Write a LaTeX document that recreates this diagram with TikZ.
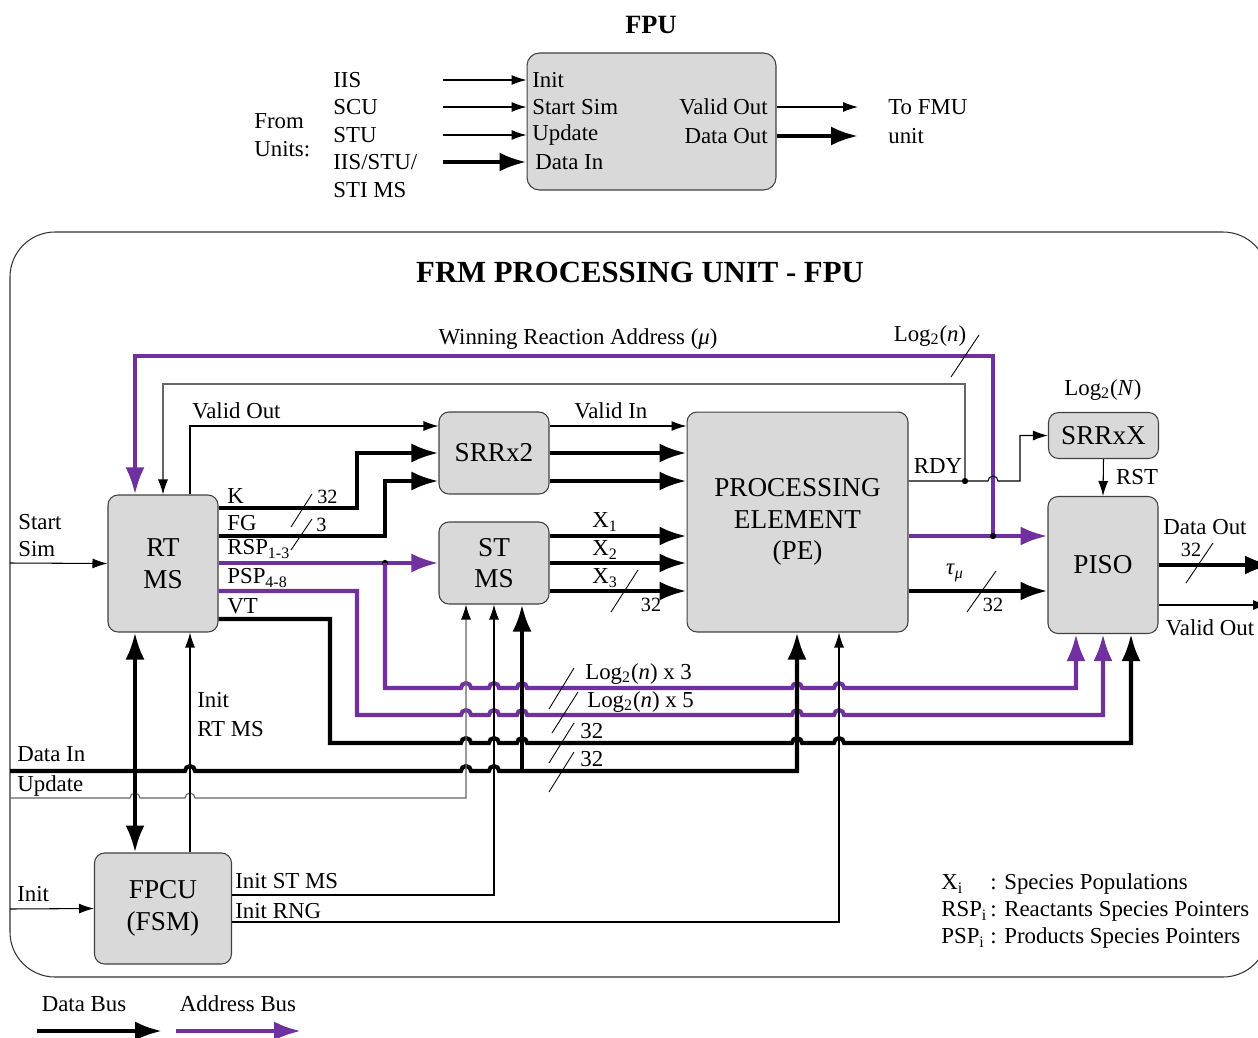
\documentclass[tikz,border=0pt]{standalone}
\usepackage{fontspec}
\setmainfont{Liberation Serif}
\usetikzlibrary{arrows.meta}
\definecolor{boxgray}{HTML}{D9D9D9}
\definecolor{addr}{HTML}{7030A0}
\tikzset{
  blk/.style={draw=black!75, line width=0.6pt, fill=boxgray, rounded corners=0.2cm,
    align=center, inner sep=0pt, font=\fontsize{15.5}{18}\selectfont},
  lbl/.style={inner sep=0pt},
  wd/.style={inner sep=0pt, font=\fontsize{11.5}{13}\selectfont},
  sig/.style={line width=0.6pt, -{Latex[length=0.3cm,width=0.2cm]}},
  gsig/.style={line width=0.6pt, draw=black!60, -{Latex[length=0.3cm,width=0.2cm,black]}},
  bus/.style={line width=2.3pt, -{Latex[length=0.54cm,width=0.38cm]}},
  abus/.style={bus, addr},
  tick/.style={line width=0.5pt},
}
\def\hopover{arc[start angle=180,end angle=0,radius=0.1cm]}
\begin{document}
\begin{tikzpicture}[x=0.02cm, y=-0.02cm, font=\fontsize{13}{15}\selectfont]
\useasboundingbox (0,0) rectangle (1258,1038);
\clip (0,0) rectangle (1258,1038);

% ---- top: FPU as a black box
\node[font=\fontsize{15}{18}\bfseries] (fputitle) at (651,25) {FPU};
\node[blk, rounded corners=0.25cm, minimum width=4.98cm, minimum height=2.74cm] (fpu) at (651.5,121.5) {};
\node[lbl, anchor=west] (from) at (254,121) {From};
\node[lbl, anchor=west] (units) at (254,149) {Units:};
\node[lbl, anchor=west] (iis) at (333,80) {IIS};
\node[lbl, anchor=west] (scu) at (333,107) {SCU};
\node[lbl, anchor=west] (stu) at (333,135) {STU};
\node[lbl, anchor=west] (iisb) at (333,162) {IIS/STU/};
\node[lbl, anchor=west] (stims) at (333,190) {STI MS};
\node[lbl, anchor=west] (finit) at (532,80) {Init};
\node[lbl, anchor=west] (fstart) at (532,107) {Start Sim};
\node[lbl, anchor=west] (fupd) at (532,135) {Update};
\node[lbl, anchor=west] (fdin) at (535,162) {Data In};
\node[lbl, anchor=east] (fvout) at (768,107) {Valid Out};
\node[lbl, anchor=east] (fdout) at (768,136) {Data Out};
\node[lbl, anchor=west] (tofmu) at (888,107) {To FMU};
\node[lbl, anchor=west] (unit) at (888,136) {unit};
\foreach \n in {iis,scu,stu}
  \draw[sig] (\n.east -| 443,0) -- (\n.east -| fpu.west);
\draw[bus] (iisb.east -| 443,0) -- (iisb.east -| fpu.west);
\draw[sig] (fvout.east -| fpu.east) -- (fvout.east -| 858,0);
\draw[bus] (fdout.east -| fpu.east) -- (fdout.east -| 858,0);

% ---- frame
\draw[line width=0.6pt, draw=black!80, rounded corners=0.9cm] (10,232) rectangle (1268,977);
\node[font=\fontsize{17.5}{20}\bfseries] (title) at (640,272) {FRM PROCESSING UNIT - FPU};

% ---- blocks
\node[blk, minimum width=2.2cm, minimum height=2.74cm] (rtms) at (163,563.5) {RT\\MS};
\node[blk, minimum width=2.2cm, minimum height=1.64cm] (srr2) at (494,453) {SRRx2};
\node[blk, minimum width=2.2cm, minimum height=1.64cm] (stms) at (494,563) {ST\\MS};
\node[blk, minimum width=4.42cm, minimum height=4.4cm] (pe) at (797.5,522) {PROCESSING\\ELEMENT\\(PE)};
\node[blk, minimum width=2.2cm, minimum height=0.92cm] (srrx) at (1103.5,435.5) {SRRxX};
\node[blk, minimum width=2.2cm, minimum height=2.74cm] (piso) at (1103,565) {PISO};
\node[blk, minimum width=2.74cm, minimum height=2.22cm] (fpcu) at (163,908.5) {FPCU\\(FSM)};

\coordinate (wrdot) at (993,536);
\coordinate (rdydot) at (965,481);
\coordinate (rspdot) at (385,563);
\coordinate (ss) at (10,563);
\coordinate (din) at (10,771);
\coordinate (djn) at (522,771);
\coordinate (upd) at (10,798);
\coordinate (ini) at (10,909);

% ---- winning reaction address and ready feedback
\draw[abus] (wrdot) -- (993,356) -- (135,356) -- (rtms.north -| 135,0);
\draw[abus] (pe.east |- wrdot) -- (piso.west |- wrdot);
\draw[gsig] (rdydot) -- (965,384) -- (163,384) -- (rtms.north -| 163,0);
\draw[sig] (pe.east |- rdydot) -- (988,481) \hopover -- (1020,481) |- (srrx.west);
\draw[sig] (srrx.south) -- (piso.north);
\fill (wrdot) circle[radius=1.8pt];
\fill (rdydot) circle[radius=1.8pt];
\node[lbl] (wra) at (578,339) {Winning Reaction Address (\textit{μ})};
\node[lbl] (logn) at (930,336) {Log\textsubscript{2}(\textit{n})};
\node[lbl] (logN) at (1103,390) {Log\textsubscript{2}(\textit{N})};
\node[lbl] (rdy) at (938,466) {RDY};
\node[lbl] (rst) at (1137,477) {RST};
\draw[tick] (951,377) -- (979,335);

% ---- RT MS outputs
\draw[sig] (rtms.north -| 190,0) |- (srr2.west |- 0,426);
\draw[sig] (srr2.east |- 0,426) -- (pe.west |- 0,426);
\foreach \y in {453,481}
  \draw[bus] (srr2.east |- 0,\y) -- (pe.west |- 0,\y);
\foreach \y in {536,563,591}
  \draw[bus] (stms.east |- 0,\y) -- (pe.west |- 0,\y);
\draw[bus] (rtms.east |- 0,508) -- (357,508) |- (srr2.west |- 0,453);
\draw[bus] (rtms.east |- 0,536) -- (385,536) |- (srr2.west |- 0,481);
\draw[abus] (rtms.east |- rspdot) -- (stms.west |- rspdot);
\fill (rspdot) circle[radius=1.8pt];
\node[lbl, anchor=west] (vout) at (192,411) {Valid Out};
\node[lbl, anchor=west] (vin) at (574,411) {Valid In};
\node[lbl, anchor=west] (k) at (227,496) {K};
\node[lbl, anchor=west] (fg) at (227,523) {FG};
\node[lbl, anchor=west] (rsp) at (227,549) {RSP\textsubscript{1-3}};
\node[lbl, anchor=west] (psp) at (227,578) {PSP\textsubscript{4-8}};
\node[lbl, anchor=west] (vt) at (227,606) {VT};
\node[wd, anchor=west] (k32) at (317,497) {32};
\node[wd, anchor=west] (fg3) at (316,525) {3};
\draw[tick] (291,527) -- (312,494);
\draw[tick] (291,550) -- (312,519);
\node[lbl, anchor=west] (x1) at (592,522) {X\textsubscript{1}};
\node[lbl, anchor=west] (x2) at (592,550) {X\textsubscript{2}};
\node[lbl, anchor=west] (x3) at (592,578) {X\textsubscript{3}};
\node[wd] (x32) at (651,605) {32};
\draw[tick] (611,612) -- (638,570);

% ---- PE to PISO, PISO outputs
\draw[bus] (pe.east |- 0,591) -- (piso.west |- 0,591);
\node[lbl] (tau) at (955,573) {\textit{τ}\textsubscript{\textit{μ}}};
\node[wd] (t32) at (993,605) {32};
\draw[tick] (967,612) -- (996,571);
\draw[bus] (piso.east |- 0,565) -- (1272,565);
\draw[sig] (piso.east |- 0,605) -- (1268,605);
\node[lbl] (dout) at (1205,527) {Data Out};
\node[wd] (d32) at (1191,550) {32};
\draw[tick] (1186,583) -- (1213,543);
\node[lbl] (pvout) at (1210,628) {Valid Out};

% ---- buses to PISO
\draw[abus] (rspdot) -- (385,688) -- (461,688) \hopover -- (489,688) \hopover -- (517,688) \hopover
  -- (792,688) \hopover -- (834,688) \hopover -- (1076,688) -- (piso.south -| 1076,0);
\draw[abus] (rtms.east |- 0,591) -- (357,591) -- (357,715) -- (461,715) \hopover -- (489,715) \hopover
  -- (517,715) \hopover -- (792,715) \hopover -- (834,715) \hopover -- (1103,715) -- (piso.south);
\draw[bus] (rtms.east |- 0,619) -- (330,619) -- (330,743) -- (461,743) \hopover -- (489,743) \hopover
  -- (517,743) \hopover -- (792,743) \hopover -- (834,743) \hopover -- (1131,743) -- (piso.south -| 1131,0);
\node[lbl, anchor=west] (l3) at (585,674) {Log\textsubscript{2}(\textit{n}) x 3};
\node[lbl, anchor=west] (l5) at (587,702) {Log\textsubscript{2}(\textit{n}) x 5};
\node[lbl, anchor=west] (v32) at (580,731) {32};
\node[lbl, anchor=west] (i32) at (580,759) {32};
\draw[tick] (549,709) -- (574,668);
\draw[tick] (552,733) -- (578,692);
\draw[tick] (549,763) -- (574,723);
\draw[tick] (549,792) -- (574,752);

% ---- inputs from outside
\draw[sig] (ss) -- (rtms.west);
\node[lbl, anchor=west] (start) at (18,522) {Start};
\node[lbl, anchor=west] (sim) at (18,549) {Sim};
\draw[bus] (din) -- (185,771) \hopover -- (461,771) \hopover -- (489,771) \hopover -- (797,771) -- (pe.south -| 797,0);
\draw[bus] (djn) -- (stms.south -| 522,0);
\draw[gsig] (upd) -- (130,798) \hopover -- (185,798) \hopover -- (466,798) -- (stms.south -| 466,0);
\node[lbl, anchor=west] (dinl) at (17,754) {Data In};
\node[lbl, anchor=west] (updl) at (17,786) {Update};
\draw[sig] (ini) -- (fpcu.west);
\node[lbl, anchor=west] (inil) at (17,894) {Init};

% ---- FPCU
\draw[bus, {Latex[length=0.54cm,width=0.38cm]}-{Latex[length=0.54cm,width=0.38cm]}] (rtms.south -| 135,0) -- (fpcu.north -| 135,0);
\draw[sig] (fpcu.north -| 190,0) -- (rtms.south -| 190,0);
\node[lbl, anchor=west] (irt1) at (197,700) {Init};
\node[lbl, anchor=west] (irt2) at (197,729) {RT MS};
\draw[sig] (fpcu.east |- 0,895) -- (494,895) -- (stms.south -| 494,0);
\draw[sig] (fpcu.east |- 0,922) -- (839,922) -- (pe.south -| 839,0);
\node[lbl, anchor=west] (ist) at (235,881) {Init ST MS};
\node[lbl, anchor=west] (irng) at (235,911) {Init RNG};

% ---- key
\node[lbl, anchor=west] (kx) at (941,884) {X\textsubscript{i}};
\node[lbl, anchor=west] (kxt) at (990,884) {: Species Populations};
\node[lbl, anchor=west] (krsp) at (941,911) {RSP\textsubscript{i}};
\node[lbl, anchor=west] (krspt) at (990,911) {: Reactants Species Pointers};
\node[lbl, anchor=west] (kpsp) at (941,938) {PSP\textsubscript{i}};
\node[lbl, anchor=west] (kpspt) at (990,938) {: Products Species Pointers};

\node[lbl] (dbus) at (84,1004) {Data Bus};
\node[lbl] (abusl) at (238,1004) {Address Bus};
\draw[bus] (37,1031) -- (162,1031);
\draw[abus] (176,1031) -- (301,1031);
\end{tikzpicture}
\end{document}
